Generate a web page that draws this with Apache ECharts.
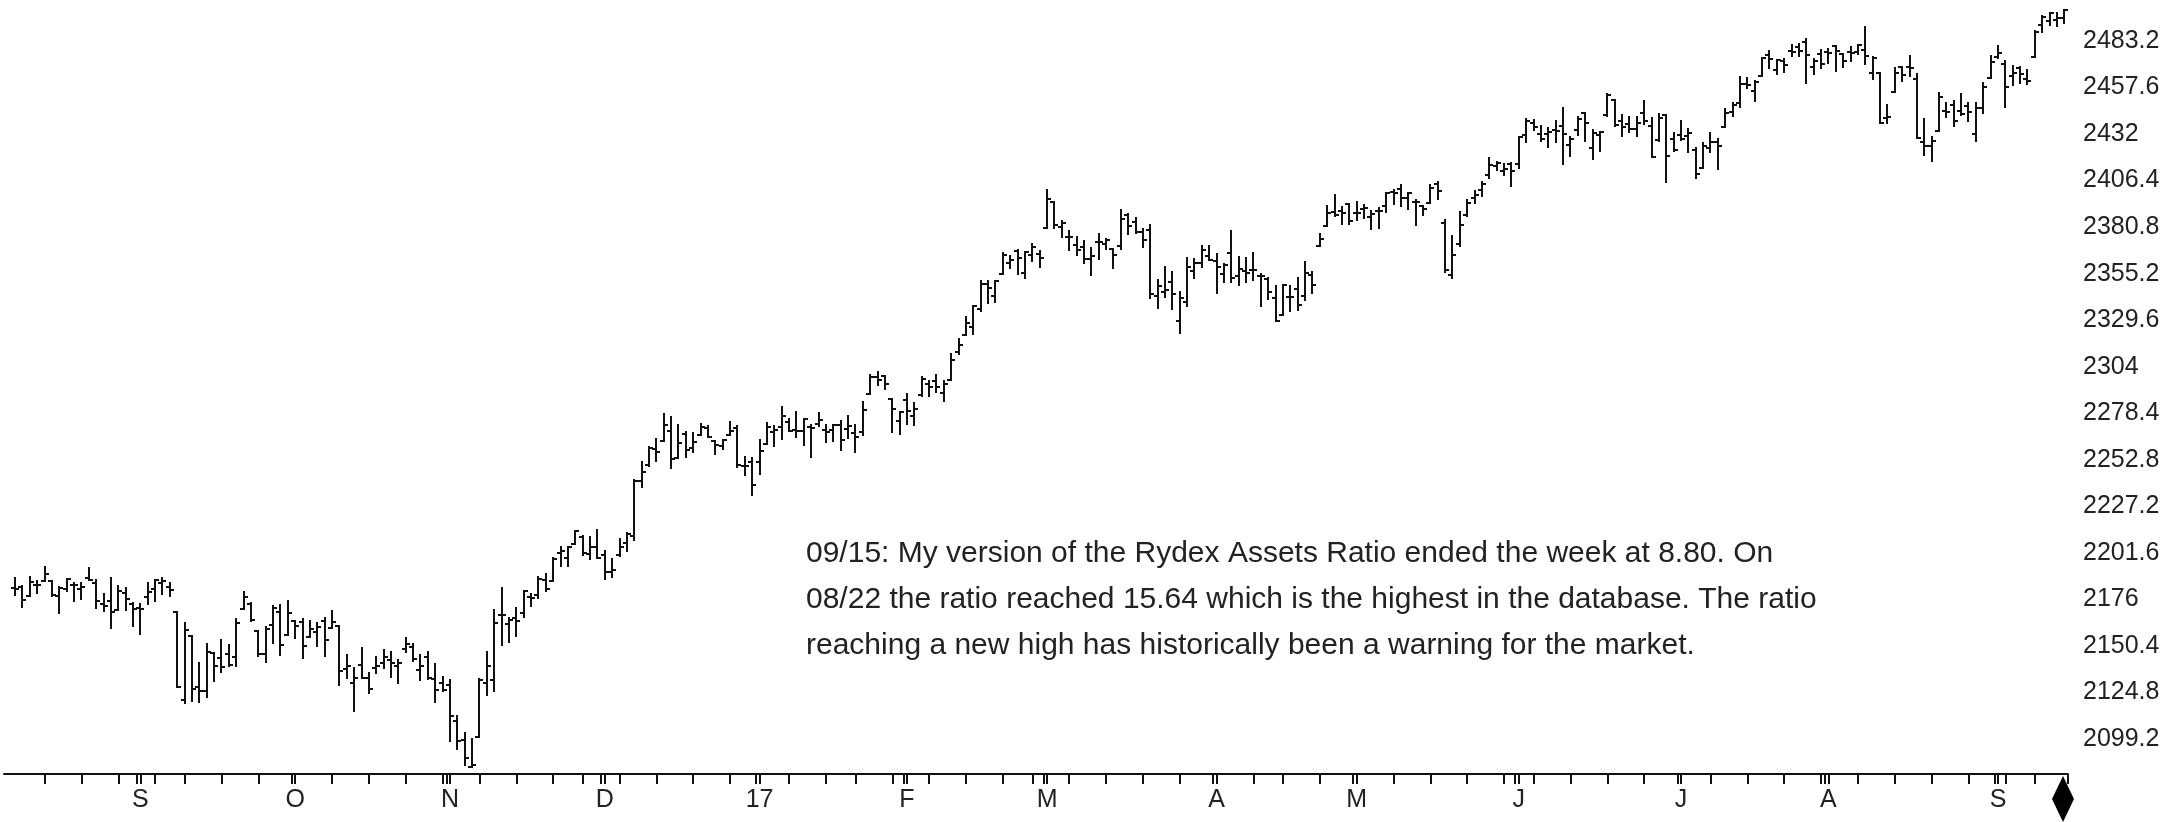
<!DOCTYPE html>
<html>
<head>
<meta charset="utf-8">
<script src="https://cdn.jsdelivr.net/npm/echarts@6/dist/echarts.min.js"></script>
<style>
  html, body { margin: 0; padding: 0; background: #fff; }
  #chart { width: 2176px; height: 822px; }
</style>
</head>
<body>
<div id="chart"></div>
<script>
// trading days, one line per month
var dates = [
  "2016-08-09","2016-08-10","2016-08-11","2016-08-12","2016-08-15","2016-08-16","2016-08-17","2016-08-18","2016-08-19","2016-08-22","2016-08-23","2016-08-24","2016-08-25","2016-08-26","2016-08-29","2016-08-30","2016-08-31",
  "2016-09-01","2016-09-02","2016-09-06","2016-09-07","2016-09-08","2016-09-09","2016-09-12","2016-09-13","2016-09-14","2016-09-15","2016-09-16","2016-09-19","2016-09-20","2016-09-21","2016-09-22","2016-09-23","2016-09-26","2016-09-27","2016-09-28","2016-09-29","2016-09-30",
  "2016-10-03","2016-10-04","2016-10-05","2016-10-06","2016-10-07","2016-10-10","2016-10-11","2016-10-12","2016-10-13","2016-10-14","2016-10-17","2016-10-18","2016-10-19","2016-10-20","2016-10-21","2016-10-24","2016-10-25","2016-10-26","2016-10-27","2016-10-28","2016-10-31",
  "2016-11-01","2016-11-02","2016-11-03","2016-11-04","2016-11-07","2016-11-08","2016-11-09","2016-11-10","2016-11-11","2016-11-14","2016-11-15","2016-11-16","2016-11-17","2016-11-18","2016-11-21","2016-11-22","2016-11-23","2016-11-25","2016-11-28","2016-11-29","2016-11-30",
  "2016-12-01","2016-12-02","2016-12-05","2016-12-06","2016-12-07","2016-12-08","2016-12-09","2016-12-12","2016-12-13","2016-12-14","2016-12-15","2016-12-16","2016-12-19","2016-12-20","2016-12-21","2016-12-22","2016-12-23","2016-12-27","2016-12-28","2016-12-29","2016-12-30",
  "2017-01-03","2017-01-04","2017-01-05","2017-01-06","2017-01-09","2017-01-10","2017-01-11","2017-01-12","2017-01-13","2017-01-17","2017-01-18","2017-01-19","2017-01-20","2017-01-23","2017-01-24","2017-01-25","2017-01-26","2017-01-27","2017-01-30","2017-01-31",
  "2017-02-01","2017-02-02","2017-02-03","2017-02-06","2017-02-07","2017-02-08","2017-02-09","2017-02-10","2017-02-13","2017-02-14","2017-02-15","2017-02-16","2017-02-17","2017-02-21","2017-02-22","2017-02-23","2017-02-24","2017-02-27","2017-02-28",
  "2017-03-01","2017-03-02","2017-03-03","2017-03-06","2017-03-07","2017-03-08","2017-03-09","2017-03-10","2017-03-13","2017-03-14","2017-03-15","2017-03-16","2017-03-17","2017-03-20","2017-03-21","2017-03-22","2017-03-23","2017-03-24","2017-03-27","2017-03-28","2017-03-29","2017-03-30","2017-03-31",
  "2017-04-03","2017-04-04","2017-04-05","2017-04-06","2017-04-07","2017-04-10","2017-04-11","2017-04-12","2017-04-13","2017-04-17","2017-04-18","2017-04-19","2017-04-20","2017-04-21","2017-04-24","2017-04-25","2017-04-26","2017-04-27","2017-04-28",
  "2017-05-01","2017-05-02","2017-05-03","2017-05-04","2017-05-05","2017-05-08","2017-05-09","2017-05-10","2017-05-11","2017-05-12","2017-05-15","2017-05-16","2017-05-17","2017-05-18","2017-05-19","2017-05-22","2017-05-23","2017-05-24","2017-05-25","2017-05-26","2017-05-30","2017-05-31",
  "2017-06-01","2017-06-02","2017-06-05","2017-06-06","2017-06-07","2017-06-08","2017-06-09","2017-06-12","2017-06-13","2017-06-14","2017-06-15","2017-06-16","2017-06-19","2017-06-20","2017-06-21","2017-06-22","2017-06-23","2017-06-26","2017-06-27","2017-06-28","2017-06-29","2017-06-30",
  "2017-07-03","2017-07-05","2017-07-06","2017-07-07","2017-07-10","2017-07-11","2017-07-12","2017-07-13","2017-07-14","2017-07-17","2017-07-18","2017-07-19","2017-07-20","2017-07-21","2017-07-24","2017-07-25","2017-07-26","2017-07-27","2017-07-28","2017-07-31",
  "2017-08-01","2017-08-02","2017-08-03","2017-08-04","2017-08-07","2017-08-08","2017-08-09","2017-08-10","2017-08-11","2017-08-14","2017-08-15","2017-08-16","2017-08-17","2017-08-18","2017-08-21","2017-08-22","2017-08-23","2017-08-24","2017-08-25","2017-08-28","2017-08-29","2017-08-30","2017-08-31",
  "2017-09-01","2017-09-05","2017-09-06","2017-09-07","2017-09-08","2017-09-11","2017-09-12","2017-09-13","2017-09-14","2017-09-15"
];

var opens = [
  2182.2,2182.8,2178.0,2183.7,2186.1,2186.2,2177.8,2181.9,2184.2,2181.6,2187.8,2185.1,2173.3,2175.1,2170.2,2179.5,2173.6,
  2171.3,2177.5,2181.6,2185.2,2182.8,2169.1,2120.9,2155.8,2127.9,2125.4,2146.5,2144.0,2145.9,2144.6,2170.9,2173.3,2158.5,2146.0,2161.9,2168.9,2156.5,
  2164.3,2163.4,2155.2,2158.2,2164.2,2160.4,2161.4,2137.7,2130.3,2139.7,2133.0,2138.3,2140.8,2142.5,2139.4,2148.5,2149.7,2137.0,2144.1,2132.2,2129.8,
  2128.7,2109.4,2098.8,2083.8,2100.6,2129.9,2131.6,2167.5,2162.7,2165.6,2168.3,2177.5,2178.6,2186.9,2186.4,2201.6,2198.6,2206.3,2210.2,2200.8,2205.0,
  2200.2,2191.1,2200.7,2207.3,2210.7,2241.1,2249.7,2258.8,2263.3,2268.4,2253.8,2266.8,2259.2,2266.5,2270.5,2262.9,2260.3,2266.2,2270.2,2249.5,2251.6,
  2251.6,2261.6,2268.2,2271.1,2273.6,2269.0,2268.6,2271.1,2272.7,2269.1,2269.1,2271.9,2270.0,2267.8,2267.9,2288.9,2298.6,2299.0,2286.0,2274.0,
  2285.6,2276.7,2288.5,2294.3,2295.9,2289.6,2296.7,2312.3,2321.7,2326.1,2335.6,2349.6,2343.0,2354.9,2361.1,2367.5,2355.7,2365.2,2366.1,
  2380.1,2394.8,2380.9,2375.2,2370.7,2369.8,2363.5,2372.5,2371.6,2368.6,2370.3,2387.7,2383.7,2378.2,2379.3,2343.0,2345.1,2350.4,2329.1,2339.8,2356.5,2361.3,2364.8,
  2362.3,2354.8,2366.6,2353.8,2356.6,2357.2,2353.9,2352.2,2342.0,2332.6,2342.5,2346.8,2342.7,2354.7,2370.3,2381.5,2389.0,2389.7,2393.7,
  2388.5,2391.0,2386.5,2389.8,2392.4,2399.9,2401.6,2396.8,2394.8,2392.4,2394.0,2404.6,2383.0,2354.7,2371.4,2387.2,2397.0,2401.4,2409.5,2414.5,2411.7,2415.6,
  2415.6,2431.3,2437.8,2431.9,2432.0,2434.3,2436.4,2425.9,2434.2,2443.8,2424.1,2431.2,2442.6,2450.7,2439.3,2437.4,2434.7,2443.3,2436.3,2428.7,2442.4,2429.2,
  2431.4,2430.8,2423.4,2413.5,2424.5,2427.4,2435.8,2444.0,2449.2,2459.5,2455.9,2463.9,2475.6,2467.4,2472.0,2477.9,2480.0,2482.8,2469.1,2475.9,
  2477.1,2480.4,2476.0,2476.9,2477.1,2478.4,2465.4,2465.4,2441.0,2455.0,2468.7,2468.6,2462.0,2427.6,2425.5,2433.8,2444.9,2447.9,2444.7,2447.4,2431.9,2446.1,2462.7,
  2474.4,2470.4,2463.8,2468.1,2462.3,2474.5,2491.9,2493.9,2494.6,2495.7
];

var highs = [
  2187.7,2183.4,2188.5,2186.3,2193.8,2186.2,2183.1,2187.0,2185.0,2185.2,2193.4,2186.7,2179.0,2187.9,2183.5,2182.3,2173.8,
  2173.6,2184.9,2186.6,2187.9,2184.9,2169.1,2163.3,2155.8,2141.3,2151.3,2146.5,2153.6,2150.8,2165.1,2180.0,2173.8,2158.5,2161.1,2172.4,2172.7,2175.3,
  2164.4,2165.5,2164.0,2162.9,2165.9,2169.6,2161.6,2145.4,2138.2,2149.2,2135.6,2144.4,2148.4,2147.2,2142.6,2154.8,2151.4,2145.7,2147.1,2140.7,2133.3,
  2131.5,2111.8,2102.6,2099.1,2132.0,2146.9,2170.1,2182.3,2165.9,2171.4,2180.8,2179.2,2188.1,2189.9,2198.7,2204.8,2204.7,2213.4,2211.1,2210.5,2214.1,
  2202.6,2198.0,2209.4,2212.8,2241.6,2251.7,2259.8,2264.0,2278.0,2276.2,2272.1,2268.1,2267.5,2272.6,2271.2,2263.2,2263.8,2273.8,2271.3,2254.5,2253.6,
  2263.9,2272.8,2271.5,2282.1,2275.5,2279.3,2275.3,2271.8,2278.7,2272.1,2272.0,2274.3,2277.0,2271.8,2284.6,2299.6,2301.0,2299.0,2286.0,2279.1,
  2289.1,2284.0,2298.3,2296.2,2299.4,2295.9,2311.1,2319.2,2331.6,2337.6,2351.3,2351.3,2351.2,2366.7,2365.1,2368.3,2367.3,2371.5,2367.8,
  2401.0,2394.8,2383.9,2378.8,2375.1,2373.1,2369.1,2376.9,2374.4,2368.6,2390.0,2388.1,2385.7,2379.6,2381.9,2351.8,2358.9,2356.2,2344.9,2363.8,2363.4,2370.4,2370.3,
  2365.9,2360.5,2378.4,2364.2,2363.8,2366.4,2355.2,2352.7,2348.3,2349.1,2348.4,2352.6,2361.4,2356.2,2377.0,2392.5,2398.2,2392.1,2393.7,
  2394.5,2392.9,2389.8,2391.4,2399.3,2401.4,2403.9,2399.7,2395.7,2392.4,2404.1,2405.8,2384.9,2375.7,2389.1,2395.5,2400.9,2405.6,2418.7,2416.7,2415.3,2416.0,
  2430.1,2440.2,2439.6,2436.2,2435.3,2439.3,2446.2,2430.4,2441.5,2443.8,2434.0,2433.2,2453.8,2450.7,2442.2,2441.6,2441.4,2450.4,2441.0,2443.0,2442.7,2432.7,
  2439.2,2434.9,2424.3,2426.9,2432.3,2429.3,2445.8,2449.3,2463.5,2462.8,2460.9,2473.8,2477.6,2472.5,2473.1,2481.2,2481.7,2484.0,2473.5,2478.0,
  2478.5,2480.4,2476.0,2480.0,2481.0,2490.9,2474.4,2465.4,2448.1,2468.2,2468.7,2474.9,2465.0,2440.3,2430.6,2454.8,2448.9,2450.4,2454.0,2449.1,2449.2,2460.3,2475.0,
  2480.4,2472.0,2469.6,2468.6,2467.1,2488.9,2496.8,2498.4,2498.4,2500.2
];

var lows = [
  2178.6,2172.0,2178.0,2179.4,2186.1,2178.1,2168.5,2180.5,2175.1,2176.0,2186.8,2171.3,2169.7,2160.4,2170.2,2170.4,2161.3,
  2157.1,2173.6,2175.1,2179.1,2177.9,2127.8,2119.1,2120.1,2119.6,2122.4,2131.2,2135.9,2139.2,2139.6,2170.9,2164.0,2145.0,2141.6,2151.8,2145.2,2156.5,
  2154.8,2144.0,2155.2,2150.3,2144.9,2160.4,2128.8,2132.8,2114.7,2133.0,2124.4,2135.5,2138.2,2133.4,2130.1,2146.9,2141.9,2131.6,2132.5,2119.4,2125.5,
  2097.9,2094.0,2085.2,2083.8,2100.6,2123.6,2125.4,2151.2,2152.5,2156.1,2166.4,2172.2,2176.7,2180.4,2186.4,2194.5,2194.5,2206.3,2200.4,2198.2,2198.8,
  2187.4,2188.4,2200.0,2202.5,2208.9,2237.6,2249.2,2252.4,2263.3,2248.4,2253.8,2254.2,2257.2,2266.2,2265.2,2256.1,2258.8,2266.2,2249.1,2244.6,2233.6,
  2245.1,2261.6,2260.5,2264.1,2268.8,2265.3,2260.8,2254.3,2271.5,2262.8,2263.4,2258.4,2265.0,2257.0,2266.7,2288.9,2294.1,2291.6,2268.0,2267.2,
  2272.4,2271.7,2287.9,2288.0,2290.2,2285.4,2296.6,2311.1,2321.4,2322.2,2334.8,2338.9,2339.6,2354.9,2358.3,2355.1,2352.9,2361.9,2359.0,
  2380.1,2380.2,2375.4,2368.0,2365.5,2361.0,2354.5,2363.0,2368.5,2358.2,2368.9,2377.2,2377.6,2369.7,2341.9,2336.5,2342.1,2335.7,2322.3,2337.6,2352.9,2358.6,2362.6,
  2344.7,2350.7,2350.5,2348.9,2350.7,2351.5,2337.3,2341.2,2329.0,2332.5,2334.5,2335.1,2340.9,2344.5,2370.3,2381.2,2386.8,2382.4,2382.4,
  2384.8,2385.8,2379.8,2380.3,2389.2,2393.6,2392.4,2390.9,2381.9,2387.2,2393.9,2396.1,2356.2,2352.7,2370.4,2386.9,2393.9,2398.0,2408.0,2412.2,2409.4,2403.6,
  2413.5,2427.7,2434.3,2428.1,2424.8,2427.4,2415.7,2420.0,2431.3,2428.3,2418.5,2422.9,2441.8,2436.6,2430.7,2433.3,2431.1,2437.6,2419.4,2428.0,2405.7,2422.9,
  2428.7,2422.1,2407.7,2413.5,2422.3,2412.8,2435.8,2441.7,2446.7,2457.2,2450.3,2463.9,2468.4,2465.1,2466.3,2474.9,2474.9,2459.9,2465.0,2468.5,
  2471.1,2466.5,2468.9,2472.1,2475.9,2470.3,2462.1,2437.8,2437.9,2455.0,2461.4,2463.9,2430.0,2420.7,2417.4,2433.7,2441.4,2436.2,2442.2,2439.0,2428.2,2443.8,2462.7,
  2473.9,2446.6,2459.2,2460.3,2459.4,2474.5,2488.2,2492.1,2491.4,2493.2
];

var closes = [
  2181.7,2175.5,2185.8,2184.1,2190.2,2178.2,2182.2,2187.0,2183.9,2182.6,2186.9,2175.4,2172.5,2169.0,2180.4,2176.1,2171.0,
  2170.9,2180.0,2186.5,2186.2,2181.3,2127.8,2159.0,2127.0,2125.8,2147.3,2139.2,2139.1,2139.8,2163.1,2177.2,2164.7,2146.1,2159.9,2171.4,2151.1,2168.3,
  2161.2,2150.5,2159.7,2160.8,2153.7,2163.7,2136.7,2139.2,2132.6,2133.0,2126.5,2139.6,2144.3,2141.3,2141.2,2151.3,2143.2,2139.4,2133.0,2126.4,2126.2,
  2111.7,2097.9,2088.7,2085.2,2131.5,2139.6,2163.3,2167.5,2164.5,2164.2,2180.4,2176.9,2187.1,2181.9,2198.2,2202.9,2204.7,2213.4,2201.7,2204.7,2198.8,
  2191.1,2192.0,2204.7,2212.2,2241.4,2246.2,2259.5,2257.0,2271.7,2253.3,2262.0,2258.1,2262.5,2270.8,2265.2,2261.0,2263.8,2268.9,2249.9,2249.3,2238.8,
  2257.8,2270.8,2269.0,2277.0,2268.9,2268.9,2275.3,2270.4,2274.6,2267.9,2271.9,2263.7,2271.3,2265.2,2280.1,2298.4,2296.7,2294.7,2280.9,2278.9,
  2279.6,2280.9,2297.4,2292.6,2293.1,2294.7,2307.9,2316.1,2328.3,2337.6,2349.3,2347.2,2351.2,2365.4,2362.8,2363.8,2367.3,2369.8,2363.6,
  2396.0,2381.9,2383.1,2375.3,2368.4,2363.0,2364.9,2372.6,2373.5,2365.5,2385.3,2381.4,2378.3,2373.5,2344.0,2348.5,2346.0,2344.0,2341.6,2358.6,2361.1,2368.1,2362.7,
  2358.8,2360.2,2353.0,2357.5,2355.5,2357.2,2353.8,2344.9,2329.0,2349.0,2342.2,2338.2,2355.8,2348.7,2374.2,2388.6,2387.5,2388.8,2384.2,
  2388.3,2391.2,2388.1,2389.5,2399.3,2399.4,2396.9,2399.6,2394.4,2390.9,2402.3,2400.7,2357.0,2365.7,2381.7,2394.0,2398.4,2404.4,2415.1,2415.8,2412.9,2411.8,
  2430.1,2439.1,2436.1,2429.3,2433.1,2433.8,2431.8,2429.4,2440.4,2437.9,2432.5,2433.2,2453.5,2437.0,2435.6,2434.5,2438.3,2439.1,2419.4,2440.7,2419.7,2423.4,
  2429.0,2432.5,2409.8,2425.2,2427.4,2425.5,2443.3,2447.8,2459.3,2459.1,2460.6,2473.8,2473.5,2472.5,2469.9,2477.1,2477.8,2475.4,2472.1,2470.3,
  2476.4,2477.6,2472.2,2476.8,2480.9,2474.9,2474.0,2438.2,2441.3,2465.8,2464.6,2468.1,2430.0,2425.6,2428.4,2452.5,2444.0,2439.0,2443.1,2444.2,2446.3,2457.6,2471.7,
  2476.6,2457.9,2465.5,2465.1,2461.4,2488.1,2496.5,2498.4,2495.6,2500.2
];

// price scale labels on the right
var yTicks = [2099.2, 2124.8, 2150.4, 2176, 2201.6, 2227.2, 2252.8, 2278.4, 2304, 2329.6, 2355.2, 2380.8, 2406.4, 2432, 2457.6, 2483.2];
// month labels, in order of the first trading day of each month
var monthLabels = ["S", "O", "N", "D", "17", "F", "M", "A", "M", "J", "J", "A", "S"];

var note = [
  "09/15: My version of the Rydex Assets Ratio ended the week at 8.80. On",
  "08/22 the ratio reached 15.64 which is the highest in the database. The ratio",
  "reaching a new high has historically been a warning for the market."
];

// one empty slot in front so the axis line starts at the left edge
var cats = [""].concat(dates);

var weekStart = {}, monthStart = {}, labelOf = {};
var m = 0;
for (var i = 2; i < cats.length; i++) {
  var d = new Date(cats[i] + "T00:00:00Z"), p = new Date(cats[i - 1] + "T00:00:00Z");
  if (d.getUTCDay() < p.getUTCDay() || (d - p) >= 7 * 864e5) weekStart[i] = true;
  if (d.getUTCMonth() !== p.getUTCMonth()) {
    monthStart[i] = true;
    labelOf[cats[i]] = monthLabels[m++];
  }
}

var bars = dates.map(function (d, i) {
  return [i + 1, opens[i], highs[i], lows[i], closes[i]];
});

var ink = "#111";

function renderBar(params, api) {
  var x = api.value(0);
  var o = api.coord([x, api.value(1)]);
  var h = api.coord([x, api.value(2)]);
  var l = api.coord([x, api.value(3)]);
  var c = api.coord([x, api.value(4)]);
  var cx = Math.round(h[0]);
  var st = { stroke: ink, lineWidth: 2 };
  return {
    type: "group",
    children: [
      { type: "line", shape: { x1: cx, y1: Math.round(h[1]) - 1, x2: cx, y2: Math.round(l[1]) + 1 }, style: st },
      { type: "line", shape: { x1: cx - 4, y1: Math.round(o[1]), x2: cx, y2: Math.round(o[1]) }, style: st },
      { type: "line", shape: { x1: cx, y1: Math.round(c[1]), x2: cx + 4, y2: Math.round(c[1]) }, style: st }
    ]
  };
}

var chart = echarts.init(document.getElementById("chart"));
chart.setOption({
  animation: false,
  backgroundColor: "#fff",
  grid: { left: 4, right: 108, top: 0, bottom: 48 },
  xAxis: [{
    type: "category",
    data: cats,
    boundaryGap: true,
    axisLine: { show: true, lineStyle: { color: ink, width: 2 } },
    axisTick: {
      show: true,
      alignWithLabel: true,
      length: 10,
      interval: function (i) { return !!(weekStart[i] || monthStart[i]); },
      lineStyle: { color: ink, width: 2 }
    },
    axisLabel: {
      interval: function (i) { return !!monthStart[i]; },
      formatter: function (v) { return labelOf[v] || ""; },
      margin: 14,
      fontFamily: "Liberation Sans, Arial, sans-serif",
      fontSize: 25,
      color: "#222"
    },
    splitLine: { show: false }
  }, {
    type: "category",
    data: cats,
    boundaryGap: true,
    position: "bottom",
    axisLine: { show: false },
    axisLabel: { show: false },
    axisTick: {
      show: true,
      alignWithLabel: false,
      length: 10,
      interval: function (i) { return !!monthStart[i]; },
      lineStyle: { color: ink, width: 2 }
    },
    splitLine: { show: false }
  }],
  yAxis: {
    type: "value",
    position: "right",
    min: 2080,
    max: 2505.7,
    splitLine: { show: false },
    axisLine: { show: false },
    axisTick: { show: false },
    axisLabel: {
      customValues: yTicks,
      formatter: function (v) { return String(Math.round(v * 10) / 10); },
      margin: 15,
      fontFamily: "Liberation Sans, Arial, sans-serif",
      fontSize: 25,
      color: "#222"
    }
  },
  series: [{
    type: "custom",
    renderItem: renderBar,
    encode: { x: 0, y: [1, 2, 3, 4] },
    data: bars,
    clip: false
  }],
  graphic: [{
    type: "text",
    left: 806,
    top: 531,
    style: {
      text: note.join("\n"),
      font: "30px 'Liberation Sans', Arial, sans-serif",
      fill: "#222",
      lineHeight: 46
    }
  }, {
    type: "polygon",
    shape: { points: [[2063, 776], [2074, 799], [2063, 822], [2052, 799]] },
    style: { fill: "#000" }
  }]
});
</script>
</body>
</html>
